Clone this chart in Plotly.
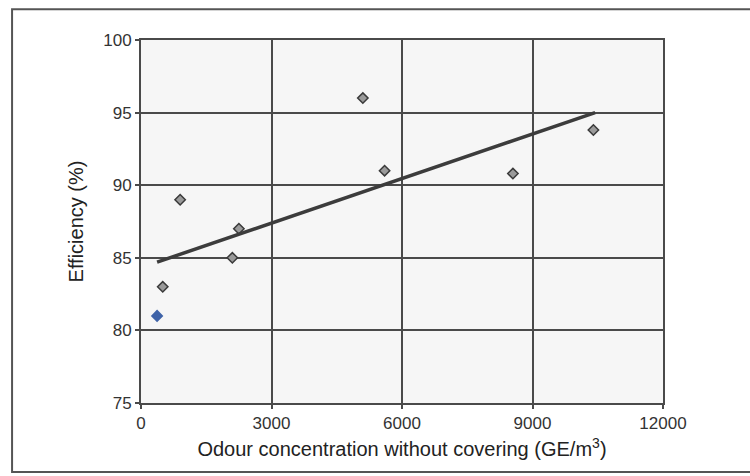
import plotly.graph_objects as go

odour = [370, 500, 900, 2100, 2250, 5100, 5600, 8550, 10400]
efficiency = [81.0, 83.0, 89.0, 85.0, 87.0, 96.0, 91.0, 90.8, 93.8]
trend_x = [370, 10440]
trend_y = [84.7, 95.0]
x_ticks = [0, 3000, 6000, 9000, 12000]
x_labels = ["0", "3000", "6000", "9000", "12000"]
y_ticks = [75, 80, 85, 90, 95, 100]

marker_colors = ["#3f63a8"] + ["#9a9a9a"] * (len(odour) - 1)
marker_lines = ["#3f63a8"] + ["#3a3a3a"] * (len(odour) - 1)

fig = go.Figure()
fig.add_trace(go.Scatter(
    x=odour, y=efficiency, mode="markers",
    marker=dict(symbol="diamond", size=8, color=marker_colors,
                line=dict(color=marker_lines, width=1.5)),
    showlegend=False))
fig.add_trace(go.Scatter(
    x=trend_x, y=trend_y, mode="lines",
    line=dict(color="#3c3c3c", width=3.5), showlegend=False))

axis_common = dict(showline=True, linecolor="#4a4a4a", linewidth=2, mirror=True,
                   showgrid=True, gridcolor="#4a4a4a", gridwidth=2,
                   ticks="outside", ticklen=4, tickcolor="#4a4a4a", tickwidth=1.5,
                   zeroline=False,
                   tickfont=dict(family="Liberation Sans, Arial", size=17, color="#333333"))

fig.update_xaxes(range=[0, 12000], tickvals=x_ticks, ticktext=x_labels,
                 title=dict(text="Odour concentration without covering (GE/m<sup>3</sup>)",
                            font=dict(family="Liberation Sans, Arial", size=20, color="#222222"),
                            standoff=10),
                 **axis_common)
fig.update_yaxes(range=[75, 100], tickvals=y_ticks,
                 title=dict(text="Efficiency (%)",
                            font=dict(family="Liberation Sans, Arial", size=20, color="#222222"),
                            standoff=14),
                 **axis_common)

fig.add_shape(type="rect", xref="paper", yref="paper",
              x0=-0.247, x1=1.25, y0=-0.19, y1=1.085,
              line=dict(color="#555555", width=2), layer="below")

fig.update_layout(width=750, height=476,
                  margin=dict(l=141, r=87, t=40, b=73),
                  paper_bgcolor="white", plot_bgcolor="#f6f6f6")

fig.write_html("out.html", config={"displayModeBar": False},
               post_script="document.body.style.margin='0';document.body.style.padding='0';")
